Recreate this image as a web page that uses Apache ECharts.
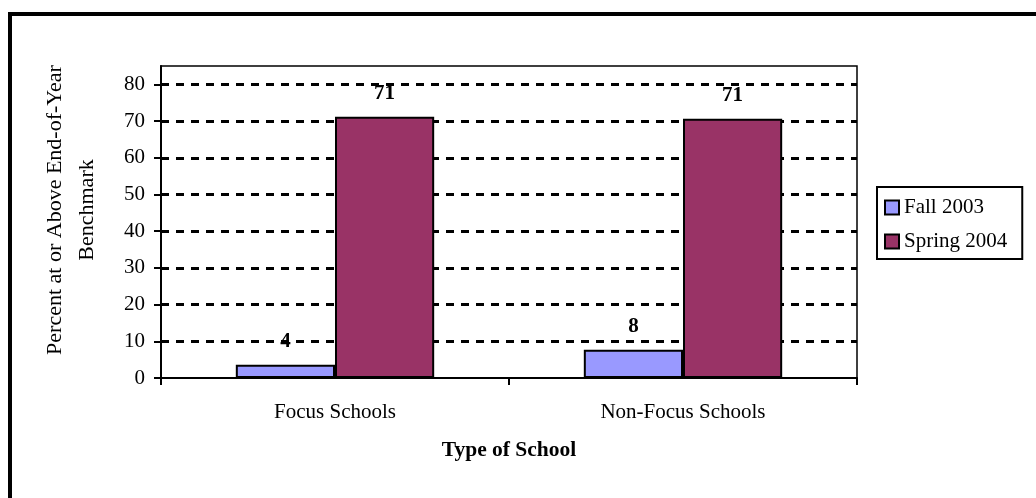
<!DOCTYPE html>
<html>
<head>
<meta charset="utf-8">
<script src="https://cdn.jsdelivr.net/npm/echarts@6/dist/echarts.min.js"></script>
<style>
  html, body { margin: 0; padding: 0; background: #fff; }
  #chart { width: 1036px; height: 498px; }
</style>
</head>
<body>
<div id="chart"></div>
<script>
// chart data
const schoolTypes = ['Focus Schools', 'Non-Focus Schools'];
const fall2003 = [3.6, 7.7];
const spring2004 = [71.2, 70.6];
const seriesNames = ['Fall 2003', 'Spring 2004'];
const seriesColors = ['#9999FF', '#993366'];
const yTitle = 'Percent at or Above End-of-Year\nBenchmark';

const font = 'Liberation Serif, Times New Roman, serif';

function makeSeries(name, values, color) {
    return {
        name: name,
        type: 'bar',
        data: values,
        barWidth: '28.5%',
        barGap: '0%',
        itemStyle: { color: color, borderColor: '#000', borderWidth: 2 },
        label: {
            show: true,
            position: 'top',
            distance: 13,
            formatter: p => Math.round(p.value),
            fontFamily: font,
            fontWeight: 'bold',
            fontSize: 21,
            color: '#000'
        }
    };
}

const myChart = echarts.init(document.getElementById('chart'));
myChart.setOption({
    animation: false,
    textStyle: { fontFamily: font, color: '#000' },
    graphic: [
        {
            type: 'rect',
            shape: { x: 10, y: 14, width: 1040, height: 500 },
            style: { fill: 'none', stroke: '#000', lineWidth: 4 }
        },
        {
            // y axis title, centred two-line text
            type: 'text',
            x: 71, y: 210,
            rotation: Math.PI / 2,
            style: {
                text: yTitle,
                font: '22px ' + font,
                lineHeight: 32,
                fill: '#000',
                align: 'center',
                verticalAlign: 'middle'
            }
        }
    ],
    grid: {
        left: 161, top: 66, right: 179, bottom: 120,
        show: true, borderColor: '#000', borderWidth: 1.5
    },
    legend: {
        orient: 'vertical',
        left: 877, top: 187,
        padding: [10, 15, 7, 7],
        itemGap: 13,
        itemWidth: 14, itemHeight: 14,
        icon: 'rect',
        borderColor: '#000', borderWidth: 2,
        textStyle: { fontFamily: font, fontSize: 21, color: '#000' },
        data: seriesNames
    },
    xAxis: {
        type: 'category',
        data: schoolTypes,
        name: 'Type of School',
        nameLocation: 'middle',
        nameGap: 61,
        nameTextStyle: { fontFamily: font, fontSize: 21.5, fontWeight: 'bold', color: '#000' },
        axisLine: { lineStyle: { color: '#000', width: 2 } },
        axisTick: { show: true, length: 7, lineStyle: { color: '#000', width: 2 } },
        axisLabel: { margin: 24, fontFamily: font, fontSize: 21, color: '#000' }
    },
    yAxis: {
        type: 'value',
        min: 0, max: 85, interval: 10,
        axisLine: { show: true, lineStyle: { color: '#000', width: 2 } },
        axisTick: { show: true, length: 7, lineStyle: { color: '#000', width: 2 } },
        axisLabel: { margin: 16, fontFamily: font, fontSize: 21, color: '#000', showMaxLabel: false },
        splitLine: {
            show: true,
            showMinLine: false,
            showMaxLine: false,
            lineStyle: { color: '#000', width: 3, type: [8, 7] }
        }
    },
    series: [
        makeSeries(seriesNames[0], fall2003, seriesColors[0]),
        makeSeries(seriesNames[1], spring2004, seriesColors[1])
    ]
});
</script>
</body>
</html>
